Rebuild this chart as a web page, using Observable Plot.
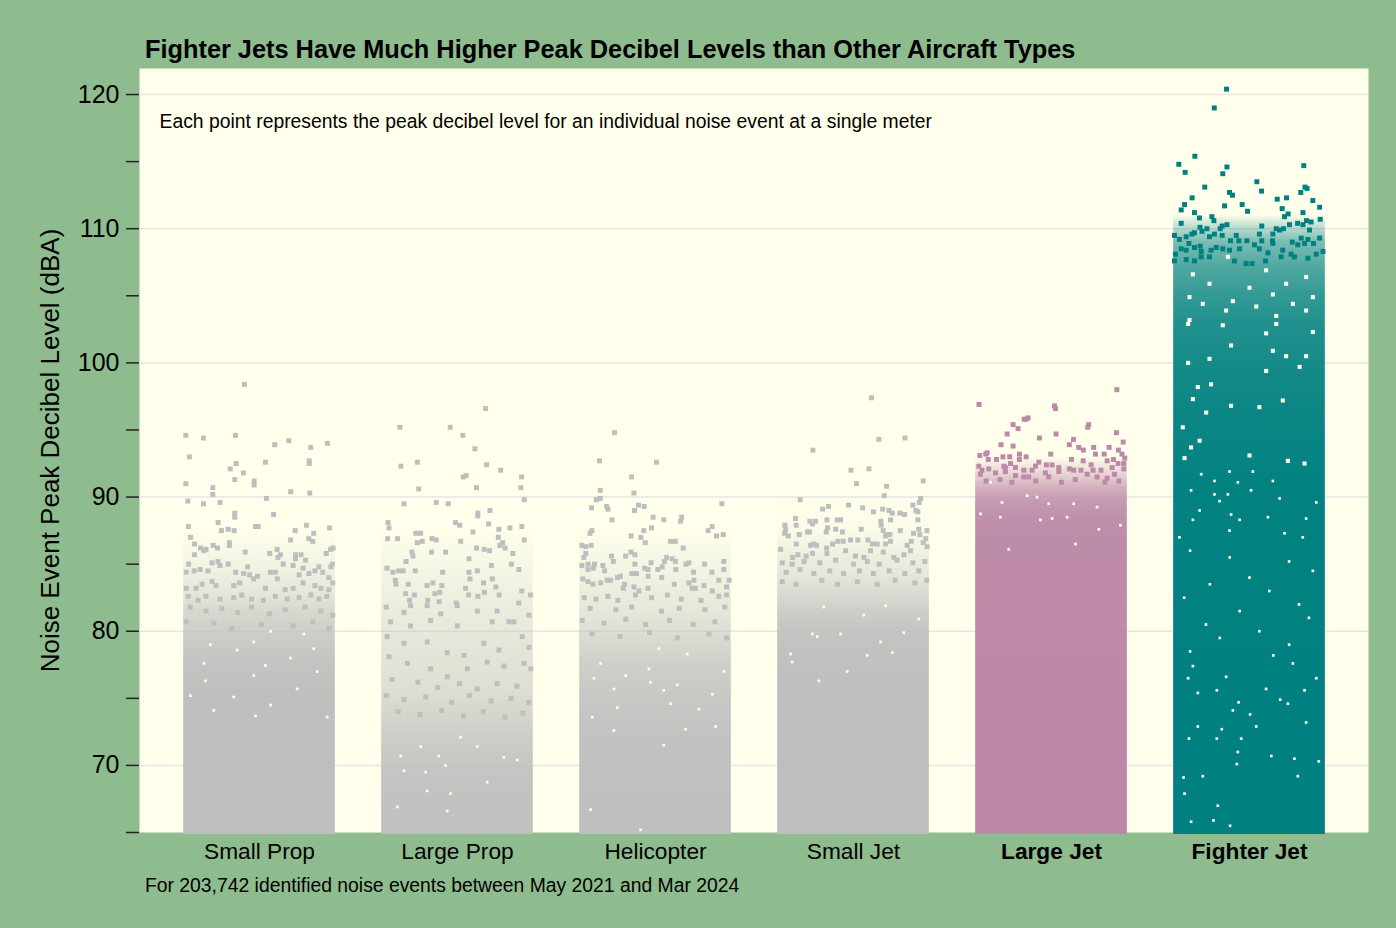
<!DOCTYPE html>
<html><head><meta charset="utf-8">
<script src="https://cdn.jsdelivr.net/npm/d3@7"></script>
<script src="https://cdn.jsdelivr.net/npm/@observablehq/plot@0.6"></script>
<style>
html,body{margin:0;padding:0;background:#8FBC8F;width:1396px;height:928px;overflow:hidden;font-family:"Liberation Sans",Arial,sans-serif;color:#000}
#wrap{position:relative;width:1396px;height:928px}
#title{position:absolute;left:145px;top:35px;font-size:25.33px;font-weight:bold;white-space:nowrap}
#note{position:absolute;left:145px;top:875px;font-size:19.33px;white-space:nowrap}
svg{display:block}
</style></head><body>
<div id="wrap">
<div id="chart"></div>
<div id="title">Fighter Jets Have Much Higher Peak Decibel Levels than Other Aircraft Types</div>
<div id="note">For 203,742 identified noise events between May 2021 and Mar 2024</div>
</div>
<script>
// The reference holds ~200k events, which cannot be read one by one. Sparse points below are
// hand-read from the picture as [jitter, dBA]; the dense body of each column is a hand-estimated
// coverage profile [from dBA, to dBA, coverage], and the "gaps" arrays are the visible holes in
// that body, also. They are a visual stand-in, not individual events.
const categories = ["Small Prop","Large Prop","Helicopter","Small Jet","Large Jet","Fighter Jet"];
const colours = ["#BEBEBE","#BEBEBE","#BEBEBE","#BEBEBE","#BC8AA8","#008080"];
const panelColour = "#FFFFEB";
const yTicks = [65,70,75,80,85,90,95,100,105,110,115,120];
const gridValues = [70,80,90,100,110,120];

const smallPropBands = [[64.85,74,1],[74,76,.99],[76,77,.96],[77,78,.92],[78,79,.86],[79,80,.8],[80,81,.7],[81,82,.6],[82,83,.44],[83,84,.32],[84,85,.22],[85,86,.14],[86,88,.04]];
const largePropBands = [[64.85,68,.95],[68,70,.92],[70,71,.86],[71,72,.8],[72,73,.74],[73,74,.66],[74,75,.6],[75,76,.52],[76,78,.46],[78,80,.4],[80,82,.32],[82,84,.22],[84,86,.12],[86,88,.04]];
const helicopterBands = [[64.85,71,.98],[71,73,.94],[73,75,.89],[75,77,.82],[77,78,.74],[78,79,.65],[79,80,.55],[80,81,.46],[81,82,.38],[82,84,.27],[84,86,.15],[86,88,.04]];
const smallJetBands = [[64.85,76,1],[76,78,.98],[78,80,.94],[80,81,.87],[81,82,.76],[82,83,.6],[83,84,.46],[84,85,.35],[85,86,.26],[86,87,.16],[87,88,.07],[88,90,.03]];
const largeJetBands = [[64.85,87,1],[87,88,.98],[88,89,.94],[89,90,.88],[90,91,.72],[91,92,.42],[92,93,.14]];
const fighterJetBands = [[64.85,88,1],[88,92,.99],[92,96,.97],[96,98,.95],[98,100,.93],[100,102,.9],[102,104,.87],[104,106,.8],[106,108,.7],[108,110,.52],[110,111,.16]];

const smallPropGaps = [[.03,77.45],[-.029,76.7],[-.13,75.1],[-.231,74.1],[.056,74.5],[-.02,73.7],[.342,73.6],[.19,75.7],[-.273,76.3],[-.349,75.2],[.291,77],[.157,78],[-.113,78.6],[-.248,79],[.224,79.8],[.056,80],[-.029,79.2],[-.281,77.6],[.274,78.7]];
const largePropGaps = [[-.153,68.1],[-.035,67.9],[.15,68.75],[-.161,69.5],[-.06,70],[-.287,70.7],[.016,72.1],[-.094,70.7],[.302,70.4],[-.27,69.6],[.234,70.6],[.1,71.4],[-.186,71.4],[-.304,66.9],[-.052,66.6]];
const helicopterGaps = [[-.033,77.2],[.042,75.6],[-.193,74.3],[.076,74.6],[.303,72.9],[-.311,76.5],[-.21,75.7],[.287,75.3],[-.025,76.2],[.11,76],[.219,74.2],[.042,71.5],[-.21,72.6],[-.32,73.6],[.152,72.7],[-.277,77.6],[-.151,76.7],[.345,77],[.16,78.3],[.017,78.7],[-.328,66.7],[-.075,65.2]];
const smallJetGaps = [[-.15,81.8],[.162,81.9],[-.208,79.8],[.33,80.9],[.069,78.2],[-.318,78.3],[.137,79.2],[-.183,79.6],[-.065,79.8],[.196,78.4],[.254,79.9],[.052,81.2],[-.032,77],[-.175,76.3],[-.31,77.7]];
const largeJetGaps = [[-.308,91.1],[-.25,89.6],[-.014,89.5],[.23,89.25],[-.073,90],[.079,88.5],[-.359,88.75],[.003,88.4],[-.123,90.1],[.112,89.5],[.348,87.9],[.239,87.6],[-.258,88.5],[.121,86.5],[-.216,86.1],[-.056,88.3]];
const fighterJetGaps = [[-.286,106.6],[-.109,107.9],[.084,106.9],[.286,106.4],[-.202,105.9],[0,105.6],[.185,105.9],[-.303,104.9],[-.084,104.6],[.118,105.1],[.32,104.9],[-.236,104.4],[.034,104.2],[.219,104.4],[-.118,103.9],[-.303,103.2],[.135,103.5],[.286,103.9],[-.31,102.9],[-.135,102.8],[.135,102.9],[.084,102.2],[.32,102.3],[-.093,101.3],[-.202,100.3],[-.31,100],[.084,99.4],[.253,99.7],[.286,100.5],[.185,100.5],[.118,100.9],[-.261,98.2],[-.194,98.4],[-.286,97.3],[.05,96.7],[-.219,96.3],[-.093,96.8],[-.337,95.2],[.168,97.2],[-.252,94.2],[-.295,93.7],[-.328,92.9],[.194,92.7],[.278,92.5],[0,93.1],[.017,91.9],[-.101,91.9],[-.244,91.7],[-.177,91.2],[.118,91.2],[-.059,91.1],[-.295,90.5],[.008,90.5],[-.177,90.2],[-.109,90.2],[-.252,89],[.337,89.6],[.093,88.5],[-.286,88.3],[-.093,88.7],[.177,87.3],[.269,87],[-.354,87],[-.101,87.5],[-.05,88.3],[.286,88.4],[-.151,89.7],[.152,89.9],[-.3,86],[-.1,85.5],[.2,85.2],[.32,84.5],[0,84],[-.2,83.5],[.1,83],[-.33,82.5],[.25,82],[-.05,81.5],[.3,81],[-.22,80.5],[.05,80],[-.15,79.5],[.2,79],[-.3,78.5],[.12,78.2],[-.261,75.4],[-.165,75.6],[.278,75.6],[-.055,74.7],[.194,74.6],[.155,74.9],[.003,73.8],[.286,73.2],[-.261,72.9],[-.14,72.7],[.034,72.9],[-.306,72],[-.165,72],[-.042,72],[-.059,71],[.11,70.7],[.227,70.5],[-.064,70.1],[.35,70.3],[-.333,69.1],[-.236,69.2],[.244,69.2],[-.328,67.9],[-.16,67],[-.182,65.9],[-.295,65.8],[-.098,65.5],[-.286,77.4],[.219,77.6],[.337,76.5],[-.31,76.5],[-.118,76.6],[.084,75.7],[-.084,74.1]];

const smallPropPoints = [[-.076,98.4],[-.372,94.6],[-.283,94.4],[-.121,94.6],[.077,93.9],[.148,94.2],[.259,93.7],[.343,94],[-.354,93],[.251,92.7],[.251,92.5],[.03,92.6],[-.118,92.5],[-.148,92.1],[-.081,91.8],[-.125,91.3],[-.027,91.2],[-.027,90.9],[-.372,91],[-.236,90.7],[-.236,90.2],[.158,90.4],[.254,90.3],[.035,89.9],[-.362,89.7],[-.283,89.5],[-.199,89.6],[-.125,88.8],[-.125,88.5],[.071,88.7],[-.209,88.1],[-.359,87.8],[-.02,87.8],[-.007,87.8],[.237,87.9],[.354,87.7],[-.192,87.5],[-.158,87.6],[-.128,87.5],[.18,87.5],[.274,87.3],[-.348,87],[.249,86.9],[.269,86.7],[.157,86.8],[-.328,86.5],[-.152,86.6],[-.152,86.4],[-.234,86.4],[-.212,86.2],[-.298,86.2],[-.281,86],[-.27,86.1],[.089,86.1],[.372,86.2],[.359,86.1],[-.072,85.9],[.052,85.8],[.106,85.7],[.093,85.5],[.182,85.7],[.21,85.7],[.182,85.4],[.232,85.3],[.337,85.8],[-.328,85.7],[-.358,85],[-.24,85.1],[-.21,85.2],[-.2,84.9],[-.158,85],[-.06,84.8],[.12,85],[.17,84.9],[.22,84.7],[.368,85],[.36,84.8],[.3,84.8],[-.37,84.4],[-.33,84.5],[-.3,84.6],[-.26,84.5],[-.12,84.4],[.055,84.4],[.08,84.4],[.25,84.3],[.28,84.5],[.32,84.4],[-.08,84.3],[-.05,84.2],[-.01,84.1],[.09,83.9],[.2,84.2],[.35,84],[.37,83.6],[-.37,83.2],[-.32,83.2],[-.29,83.5],[-.24,83.7],[-.22,83.4],[-.13,83.4],[-.1,83.6],[-.03,83.9],[.03,83.2],[.13,83.1],[.17,83.2],[.22,83.6],[.28,83.4],[.31,83.2],[.35,83.1],[-.36,82.6],[-.31,82.3],[-.27,82.6],[-.2,82.4],[-.13,82.5],[-.09,82.7],[-.04,82.4],[.02,82.3],[.08,82.6],[.14,82.4],[.2,82.5],[.26,82.7],[.3,82.4],[.34,82.6],[-.35,81.8],[-.27,81.5],[-.19,81.7],[-.11,81.4],[-.04,81.8],[.05,81.3],[.13,81.6],[.23,81.8],[.31,81.5],[.37,81.2],[-.37,80.7],[-.23,80.6],[-.14,80.2],[.01,80.5],[.17,80.4],[.27,80.7],[.35,80.2]];

const largePropPoints = [[.142,96.6],[-.291,95.2],[-.037,95.2],[.027,94.6],[.088,93.6],[-.286,92.3],[-.203,92.6],[.147,92.4],[.218,92],[.029,91.5],[.044,91.6],[.324,91.5],[-.196,90.6],[.096,90.7],[.32,90.7],[.337,89.8],[-.27,89.5],[-.107,89.6],[-.047,89.5],[.164,89],[.103,88.8],[.102,88.6],[-.351,88.1],[-.346,87.7],[-.01,88.1],[.011,87.9],[.157,88],[.078,87.4],[.209,87.6],[.265,87.7],[.325,87.8],[-.21,87.3],[-.186,87.3],[-.353,86.9],[-.303,86.9],[-.129,86.9],[-.107,86.8],[.206,87],[.016,86.7],[-.178,86.7],[-.203,86.6],[.337,86.8],[.228,86.6],[.214,86.4],[.096,86.2],[.135,86.1],[.162,86],[.24,86.2],[-.23,85.9],[-.225,85.6],[-.131,85.9],[-.06,85.9],[.28,85.8],[.058,85.4],[-.26,85.2],[.171,84.9],[.272,85],[-.356,84.7],[.31,84.6],[-.326,84.4],[-.297,84.5],[-.274,84.5],[-.213,84.5],[-.075,84.4],[.058,84.4],[.1,84.5],[-.314,83.8],[-.311,83.5],[-.249,83.5],[-.154,83.4],[-.124,83.6],[-.079,83.4],[.063,83.9],[.132,83.6],[.176,83.9],[.194,83.3],[.041,83.2],[-.262,82.8],[-.218,82.7],[-.114,82.8],[-.09,82.9],[.056,82.7],[.103,82.6],[.136,82.9],[.21,82.7],[.325,83],[.369,82.7],[-.242,82.3],[-.15,82.3],[-.093,82.2],[-.006,82.1],[.31,82.1],[-.36,81.8],[-.27,81.4],[-.237,81.9],[-.153,81.9],[-.085,81.3],[-.001,81.9],[.1,81.5],[.2,81.5],[.285,80.7],[.361,81.2],[-.338,80.7],[-.237,80.4],[-.136,80.8],[-.001,80.4],[.175,80.7],[.26,80.7],[-.355,79.6],[-.27,79.1],[-.153,79.2],[-.052,78.4],[.033,78.2],[.133,79.1],[.21,78.6],[.327,79.6],[.361,78.8],[-.346,78.1],[-.253,77.6],[-.136,77.2],[-.052,76.6],[.05,77.2],[.15,77.7],[.235,77.4],[.335,77.6],[.37,77.2],[-.33,76.4],[-.2,76.2],[-.1,75.8],[.01,76.1],[.1,75.7],[.2,76.1],[.3,75.9],[-.36,75.2],[-.27,74.9],[-.16,75.1],[-.03,74.7],[.06,75.2],[.17,74.8],[.27,75],[.36,74.7],[-.3,74],[-.19,73.8],[-.08,74.1],[.03,73.7],[.13,74],[.24,73.6],[.33,73.9]];

const helicopterPoints = [[-.207,94.8],[-.283,92.7],[.005,92.6],[-.121,91.5],[-.279,90.5],[-.109,90.3],[-.299,89.8],[-.279,89.9],[-.323,89.2],[-.247,89.3],[-.24,89.1],[-.086,89.4],[-.057,89.3],[-.106,89],[.335,89.5],[-.22,88.3],[-.012,88.5],[.042,88.3],[.132,88.5],[.127,88.2],[-.321,87.5],[-.331,87.3],[-.02,87.7],[-.059,87.5],[.286,87.8],[.266,87.5],[.308,87.1],[.342,87.2],[-.123,87.1],[-.074,87],[-.052,86.6],[.076,86.7],[.1,86.7],[-.372,86.4],[-.352,86.3],[-.325,86.4],[.14,86.2],[-.362,85.5],[-.352,85.8],[-.222,85.6],[-.151,85.6],[-.124,85.9],[-.104,85.7],[-.213,85.2],[.056,85.5],[.046,85.2],[.084,85.4],[.101,85.2],[-.372,84.9],[-.341,85],[-.341,84.6],[-.308,85],[-.314,84.7],[-.266,84.9],[-.257,84.5],[-.104,85],[-.022,85.1],[-.055,84.7],[-.038,84.6],[.012,84.6],[.034,84.8],[.103,84.6],[.169,85.1],[.154,85],[.248,85],[.345,85.2],[.345,84.6],[.192,84.4],[.285,84.4],[-.119,84.3],[-.096,84.3],[-.177,84.1],[-.192,84],[-.037,84.1],[.031,84],[-.367,83.9],[-.341,83.7],[-.316,83.5],[-.277,83.6],[-.244,83.8],[-.227,83.8],[-.156,83.5],[-.163,83.2],[-.109,83.3],[-.084,83],[-.101,82.7],[-.038,83.2],[.095,83.5],[.194,83.8],[.169,83.6],[.185,83.2],[.202,83.2],[.32,83.8],[.372,83.8],[.245,83.4],[.287,83],[.359,83.3],[.359,82.7],[.32,82.6],[-.36,82.5],[-.3,82.4],[-.24,82.6],[-.19,82.3],[-.02,82.5],[.06,82.7],[.13,82.4],[.23,82.3],[-.33,81.7],[-.2,81.6],[-.12,81.8],[.03,81.5],[.12,81.7],[.25,81.6],[.35,81.8],[-.37,80.8],[-.26,80.6],[-.15,80.9],[-.05,80.5],[.07,80.8],[.19,80.5],[.3,80.7],[-.32,79.8],[-.18,79.6],[-.03,79.9],[.11,79.5],[.27,79.8],[.36,79.5]];

const smallJetPoints = [[.091,97.4],[.128,94.3],[.26,94.4],[-.205,93.5],[-.013,92],[.078,92.1],[.015,91],[.352,91.2],[.167,90.8],[.155,90.1],[-.269,89.8],[.339,89.9],[.332,89.6],[.3,89.4],[-.025,89.4],[.046,89.2],[-.156,89.1],[-.126,89.3],[.101,88.9],[.147,89.1],[.179,89],[.196,88.8],[.234,88.8],[.258,88.7],[.315,89],[.325,88.9],[-.293,88.4],[-.134,88.3],[-.082,88.3],[-.065,88.3],[.325,88.3],[.187,88.3],[.138,88.2],[-.22,88.2],[-.192,88.2],[-.207,88],[-.347,87.9],[-.289,87.9],[.14,87.9],[-.348,87.3],[-.33,87.1],[-.343,87.6],[-.274,87.2],[-.232,87.4],[-.222,87.4],[-.131,87.7],[-.138,87.4],[-.09,87.6],[-.056,87.4],[.039,87.6],[.236,87.5],[.15,87.5],[.17,87.2],[.184,87.2],[.162,87.1],[.33,87.6],[.371,87.5],[.303,87.3],[.335,87.2],[-.289,86.5],[-.217,86.4],[-.2,86.5],[-.187,86.4],[-.136,86.2],[-.106,86.5],[-.079,86.7],[-.052,86.7],[-.015,86.8],[.022,86.8],[.073,86.8],[.096,86.5],[.12,86.5],[.162,86.5],[.187,86.7],[.271,86.4],[.292,86.7],[.352,86.6],[.372,86.3],[.365,86.9],[-.368,86.1],[-.134,85.8],[-.239,85.6],[-.281,85.7],[-.207,85.8],[-.308,85.5],[-.04,86],[.01,85.6],[.053,85.5],[.086,86],[.15,85.9],[.204,85.5],[.255,85.7],[.288,86],[-.36,85.1],[-.31,85],[-.25,85.2],[-.17,85.1],[-.09,85.3],[0,85],[.07,85.2],[.13,85],[.22,85.3],[.3,85.1],[.36,85.2],[-.34,84.4],[-.27,84.6],[-.2,84.3],[-.12,84.5],[-.05,84.3],[.03,84.5],[.1,84.3],[.18,84.5],[.26,84.3],[.33,84.5],[-.36,83.7],[-.29,83.5],[-.16,83.8],[-.08,83.5],[.02,83.7],[.12,83.5],[.21,83.8],[.31,83.6],[.37,83.8]];

const largeJetPoints = [[.33,98],[-.366,96.9],[.015,96.8],[.02,96.6],[-.128,95.8],[-.118,95.9],[-.138,95.8],[-.194,95.4],[-.169,95.1],[.188,95.4],[.183,95.2],[-.224,94.7],[.023,94.7],[.328,94.8],[-.061,94.4],[.111,94.3],[-.255,93.9],[-.194,93.8],[.09,93.9],[.362,94.1],[.138,93.7],[.161,93.5],[.213,93.7],[.291,93.7],[.338,93.5],[-.362,93.1],[-.332,93.2],[-.325,93.3],[-.162,93.2],[-.004,93.2],[.222,93.2],[.266,93.2],[.356,93.2],[.37,92.9],[-.319,92.8],[-.278,92.8],[-.245,93],[-.211,93],[-.162,92.8],[-.128,93],[-.064,92.6],[.101,92.8],[.16,92.7],[.281,92.7],[.313,92.8],[-.367,92.3],[-.241,92.3],[-.026,92.4],[.003,92.4],[.037,92.2],[.2,92.4],[.365,92.5],[.336,92.5],[-.207,92.5],[-.351,92],[-.317,92.1],[-.233,92.2],[-.182,92.2],[-.14,92],[-.098,92],[-.081,92.3],[.09,92.1],[.112,92],[.149,92],[.21,92],[.25,92],[.306,92.2],[.365,92.1],[.318,91.7],[-.359,91.7],[-.283,91.8],[-.233,91.9],[-.182,91.6],[-.14,91.5],[-.115,91.5],[-.031,91.8],[-.014,91.5],[.037,91.9],[.23,91.5],[.281,91.4],[.18,91.7],[-.33,91.2],[-.26,91.3],[-.2,91.1],[-.08,91.2],[.05,91.1],[.12,91.3],[.27,91.1],[.34,91.2]];

const fighterJetPoints = [[-.116,120.4],[-.178,119],[-.276,115.4],[-.357,114.8],[-.325,114.2],[-.114,114.6],[-.135,114.1],[.274,114.7],[.037,113.5],[-.226,113.1],[.061,112.8],[.28,113.1],[.291,113],[.259,112.7],[-.101,112.7],[-.086,112.5],[-.29,112.3],[.14,112.2],[.187,112.3],[.32,112.1],[-.328,111.8],[-.126,111.7],[-.037,111.8],[-.345,111.4],[-.278,111.2],[-.253,110.8],[-.19,110.9],[-.18,110.6],[.354,111.6],[.165,111.5],[.195,111.1],[.177,110.9],[-.01,111.3],[.27,111.2],[.357,110.7],[.288,110.6],[.311,110.5],[-.345,110.4],[-.114,110.3],[-.138,110.2],[.062,110.2],[.202,110.3],[.243,110.4],[.27,110.3],[-.25,110.1],[-.215,110],[-.24,109.8],[-.148,110],[.135,110],[.172,110],[.303,109.9],[-.379,109.5],[-.354,109.2],[-.32,109.4],[-.291,109.6],[-.278,109.7],[-.202,109.4],[-.177,109.6],[-.138,109.5],[-.067,109.5],[.05,109.6],[.118,109.6],[.152,109.9],[-.096,109.1],[-.054,109.1],[-.013,109.1],[.062,109.1],[.116,109.1],[.216,109],[.261,109.3],[.295,109.2],[.354,109.3],[.323,108.9],[.278,108.9],[.244,108.8],[-.306,108.9],[-.249,108.7],[-.168,108.6],[-.135,108.5],[.025,108.8],[.118,108.9],[.168,108.4],[.371,108.3],[-.374,108.1],[-.345,108.5],[-.32,108.4],[-.278,108.6],[-.244,108.3],[-.194,108.4],[-.101,108.4],[-.05,108.5],[.05,108.5],[.093,108.2],[.21,108.1],[.227,107.9],[.337,108.1],[-.379,107.6],[-.32,107.7],[-.278,107.6],[-.244,107.9],[-.202,107.9],[-.076,107.6],[-.017,107.4],[.013,107.4],[.081,107.6],[.16,107.9],[.295,107.8]];

const bandSets = [smallPropBands,largePropBands,helicopterBands,smallJetBands,largeJetBands,fighterJetBands];
const gapSets = [smallPropGaps,largePropGaps,helicopterGaps,smallJetGaps,largeJetGaps,fighterJetGaps];
const pointSets = [smallPropPoints,largePropPoints,helicopterPoints,smallJetPoints,largeJetPoints,fighterJetPoints];
const columnHalfWidth = 0.383;

const points = pointSets.flatMap((s,i)=>s.map(([j,db])=>({pos:i+j,category:categories[i],db})));
const gaps = gapSets.flatMap((s,i)=>s.map(([j,db])=>({pos:i+j,db})));
const columns = bandSets.map((s,i)=>({slot:i,lo:s[0][0],hi:s[s.length-1][1]}));

// One vertical gradient per column, whose stops are the coverage profile.
function gradients(){
  const defs = d3.create("svg:defs");
  bandSets.forEach((s,i)=>{
    const lo = columns[i].lo, hi = columns[i].hi;
    const g = defs.append("linearGradient").attr("id","cover"+i).attr("x1",0).attr("x2",0).attr("y1",1).attr("y2",0);
    s.forEach(([a,b,c])=>{
      g.append("stop").attr("offset",((a+b)/2-lo)/(hi-lo)).attr("stop-color",colours[i]).attr("stop-opacity",c);
    });
    g.append("stop").attr("offset",1).attr("stop-color",colours[i]).attr("stop-opacity",0);
  });
  return defs.node();
}

const plot = Plot.plot({
  width:1396, height:928,
  marginLeft:139, marginRight:28, marginTop:68, marginBottom:96,
  style:{background:"transparent",fontFamily:'"Liberation Sans",Arial,sans-serif',color:"#000"},
  x:{domain:[-0.606,5.601],axis:null},
  y:{domain:[65,121.94],axis:null},
  color:{domain:categories,range:colours},
  marks:[
    gradients,
    Plot.frame({fill:panelColour,stroke:"none"}),
    Plot.ruleY(gridValues,{stroke:"#E6E6E6",strokeWidth:1.5}),
    ...columns.map(c=>Plot.rect([c],{x1:d=>d.slot-columnHalfWidth,x2:d=>d.slot+columnHalfWidth,y1:"lo",y2:"hi",fill:"url(#cover"+c.slot+")"})),
    Plot.dot(gaps,{x:"pos",y:"db",symbol:"square",r:{value:d=>d.db>92?2.3:1.5,scale:null},fill:panelColour,stroke:"none"}),
    Plot.dot(points,{x:"pos",y:"db",symbol:"square",r:2.8,fill:"category",stroke:"none"}),
    Plot.text(["Each point represents the peak decibel level for an individual noise event at a single meter"],{x:-0.505,y:118,text:d=>d,textAnchor:"start",fontSize:19.33,fill:"#000"}),
    Plot.axisY({ticks:yTicks,tickSize:13,tickPadding:7,fontSize:25,stroke:"#222",strokeWidth:1.5,fill:"#000",tickFormat:d=>d%10===0?d:"",label:null}),
    Plot.text(["Noise Event Peak Decibel Level (dBA)"],{frameAnchor:"left",textAnchor:"middle",rotate:-90,dx:-89,text:d=>d,fontSize:26,fill:"#000"}),
    Plot.axisX({ticks:[0,1,2,3],tickSize:0,tickPadding:10,fontSize:22.7,fill:"#000",tickFormat:d=>categories[d],label:null}),
    Plot.axisX({ticks:[4,5],tickSize:0,tickPadding:10,fontSize:22.7,fontWeight:"bold",fill:"#000",tickFormat:d=>categories[d],label:null})
  ]
});
document.getElementById("chart").appendChild(plot);
</script>
</body></html>
